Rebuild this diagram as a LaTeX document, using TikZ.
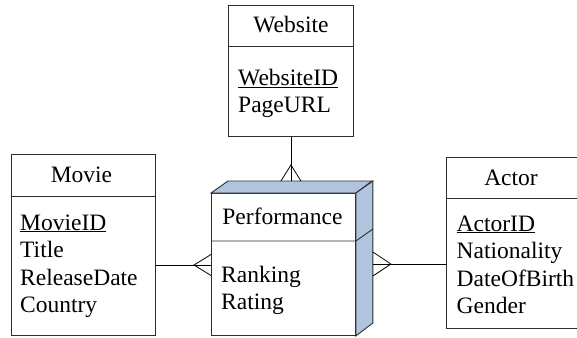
\documentclass[tikz,border=0pt]{standalone}
\usepackage{fontspec}
\setmainfont{Liberation Serif}
\usetikzlibrary{calc}
\definecolor{sidefill}{RGB}{176,196,222}
\definecolor{edge}{RGB}{45,45,45}
\tikzset{
  entity/.style={draw=edge, line width=0.9pt, fill=white, inner sep=0pt, anchor=north west},
  boxtitle/.style={anchor=base, inner sep=0pt},
  attr/.style={anchor=base west, inner sep=0pt},
  link/.style={draw=black, line width=0.8pt},
  face/.style={fill=sidefill, draw=edge, line width=0.9pt, line join=miter},
}
\begin{document}
\begin{tikzpicture}[x=1pt, y=-1pt, font=\fontsize{23.5}{27.5}\selectfont]
\useasboundingbox (0,0) rectangle (577,337);

% ---------- Website ----------
\node[entity, minimum width=125pt, minimum height=131pt] (web) at (228,5) {};
\draw[edge, line width=0.9pt] ($(web.north west)+(0,41)$) -- ($(web.north east)+(0,41)$);
\node[boxtitle] (webt) at ($(web.north)+(0,28)$) {Website};
\node[attr] (web1) at ($(web.north west)+(10,80)$) {\underline{WebsiteID}};
\node[attr] (web2) at ($(web.north west)+(10,107.5)$) {PageURL};

% ---------- Movie ----------
\node[entity, minimum width=144pt, minimum height=181pt] (movie) at (11,154) {};
\draw[edge, line width=0.9pt] ($(movie.north west)+(0,42)$) -- ($(movie.north east)+(0,42)$);
\node[boxtitle] (moviet) at ($(movie.north)+(-2,28)$) {Movie};
\node[attr] (movie1) at ($(movie.north west)+(9,76)$) {\underline{MovieID}};
\node[attr] (movie2) at ($(movie.north west)+(9,103.5)$) {Title};
\node[attr] (movie3) at ($(movie.north west)+(9,131)$) {ReleaseDate};
\node[attr] (movie4) at ($(movie.north west)+(9,158.5)$) {Country};

% ---------- Actor (runs past the right edge) ----------
\node[entity, minimum width=133pt, minimum height=171pt] (actor) at (445.5,157) {};
\draw[edge, line width=0.9pt] ($(actor.north west)+(0,41)$) -- ($(actor.north east)+(0,41)$);
\node[boxtitle] (actort) at ($(actor.north west)+(65.5,28)$) {Actor};
\node[attr] (actor1) at ($(actor.north west)+(11,74)$) {\underline{ActorID}};
\node[attr] (actor2) at ($(actor.north west)+(11,101.5)$) {Nationality};
\node[attr] (actor3) at ($(actor.north west)+(11,129)$) {DateOfBirth};
\node[attr] (actor4) at ($(actor.north west)+(11,156.5)$) {Gender};

% ---------- Performance (3-D box) ----------
\node[entity, minimum width=144pt, minimum height=142pt] (perf) at (211,193) {};
\draw[face] (perf.north west) -- ++(17,-12) -- ++(144,0) -- (perf.north east) -- cycle;
\draw[face] (perf.north east) -- ++(17,-12) -- ++(0,142) -- (perf.south east) -- cycle;
\draw[edge, line width=0.9pt] ($(perf.north west)+(0,48)$) -- ($(perf.north east)+(0,48)$) -- ++(17,-12);
\node[boxtitle] (perft) at ($(perf.north)+(-1,31)$) {Performance};
\node[attr] (perf1) at ($(perf.north west)+(10,89)$) {Ranking};
\node[attr] (perf2) at ($(perf.north west)+(10,116.5)$) {Rating};

% ---------- connectors with crow's feet ----------
\coordinate (ptop) at ($(web.south |- perf.north)+(0,-12)$);
\draw[link] (web.south) -- (ptop);
\draw[link] ($(ptop)+(-10,0)$) -- ($(ptop)+(0,-16)$) -- ($(ptop)+(10,0)$);

\coordinate (pleft) at (perf.west |- 0,265);
\draw[link] (movie.east |- pleft) -- (pleft);
\draw[link] ($(pleft)+(0,-10.5)$) -- ($(pleft)+(-17,0)$) -- ($(pleft)+(0,10.5)$);

\coordinate (pright) at ($(perf.east |- 0,264)+(17,0)$);
\draw[link] (pright) -- (actor.west |- pright);
\draw[link] ($(pright)+(0,-12)$) -- ($(pright)+(18,0)$) -- ($(pright)+(0,12)$);
\end{tikzpicture}
\end{document}
